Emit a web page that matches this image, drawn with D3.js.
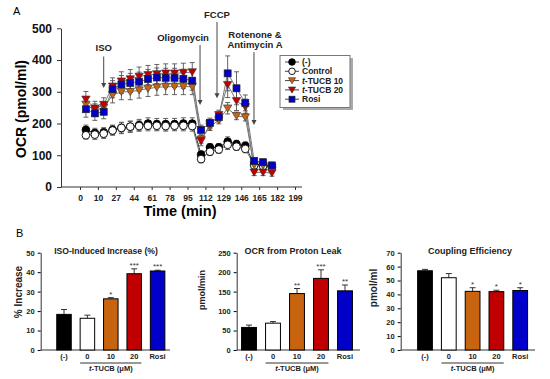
<!DOCTYPE html>
<html><head><meta charset="utf-8">
<script src="https://cdn.jsdelivr.net/npm/d3@7"></script>
<style>body{margin:0;background:#fff} svg{display:block;font-family:Arial,"Liberation Sans",sans-serif}</style>
</head><body><svg id="c" width="550" height="379"></svg>
<script>
// ---------- Panel A data ----------
const seriesNames = ["(-)", "Control", "t-TUCB 10", "t-TUCB 20", "Rosi"];
const timeTicks = [0, 10, 27, 44, 61, 78, 95, 112, 129, 146, 165, 182, 199];
const times = [3.3, 8.3, 15.5, 23.9, 32.3, 40.7, 49.1, 57.5, 65.9, 74.3, 82.7, 91.1, 99.5, 107.9, 116.3, 124.7, 133.1, 141.5, 150.3, 159.7, 168.7, 177.1];
const ocrNeg  = [180, 170, 172, 180, 186, 190, 195, 200, 198, 198, 198, 200, 200, 102, 125, 125, 143, 135, 130, 72, 70, 65];
const ocrCtrl = [163, 165, 168, 178, 186, 190, 192, 193, 193, 192, 193, 193, 192, 88, 111, 118, 133, 127, 120, 68, 66, 62];
const ocrT10  = [260, 242, 250, 290, 300, 300, 305, 310, 314, 316, 316, 316, 316, 150, 190, 211, 248, 224, 220, 69, 68, 62];
const ocrT20  = [276, 248, 259, 317, 333, 340, 348, 353, 356, 358, 358, 360, 362, 145, 198, 227, 322, 271, 252, 46, 46, 44];
const ocrRosi = [245, 232, 237, 308, 323, 328, 332, 340, 345, 344, 344, 341, 335, 180, 202, 220, 358, 311, 265, 82, 78, 68];
const errNeg  = [15, 15, 15, 15, 18, 18, 18, 18, 18, 18, 18, 18, 18, 12, 12, 12, 15, 12, 12, 8, 8, 8];
const errCtrl = [12, 15, 15, 15, 16, 16, 16, 16, 16, 16, 16, 16, 16, 12, 12, 12, 15, 12, 12, 8, 8, 8];
const errT10  = [20, 20, 20, 25, 25, 25, 25, 25, 25, 25, 25, 25, 25, 12, 12, 12, 18, 12, 12, 8, 8, 8];
const errT20  = [25, 22, 22, 27, 30, 30, 30, 30, 30, 30, 30, 30, 30, 15, 15, 15, 40, 30, 25, 10, 10, 10];
const errRosi = [25, 22, 22, 27, 28, 30, 30, 30, 30, 30, 30, 30, 30, 15, 15, 15, 55, 52, 25, 10, 10, 10];
const injNames = ["ISO", "Oligomycin", "FCCP", "Rotenone &|Antimycin A"];
const injTimes = [15.5, 106.9, 123, 159.5];
const injFrom  = [411, 447, 520, 425];
const injTo    = [312, 258, 280, 195];

// ---------- Panel B data ----------
const groups = ["(-)", "0", "10", "20", "Rosi"];
const isoVals = [18.3, 16.3, 26.3, 39.2, 40.6];
const isoErr  = [2.5, 1.6, 0.6, 2.5, 0.4];
const isoStars = ["", "", "*", "***", "***"];
const leakVals = [58, 69, 145, 184, 152];
const leakErr  = [6, 4, 13, 22, 15];
const leakStars = ["", "", "**", "***", "**"];
const coupVals = [57, 52, 42.2, 42, 42.8];
const coupErr  = [1, 3, 2.6, 1, 2];
const coupStars = ["", "", "*", "*", "*"];

const colors = ["#000000", "#ffffff", "#c8640f", "#c00000", "#0000c8"];
const shapes = ["circle", "circle", "tri", "tri", "square"];

const svg = d3.select("#c");
const FONT = 'Arial,"Liberation Sans",sans-serif';

// ================= Panel A =================
const tickPos = timeTicks.map((d, i) => 80 + i * (215 / 12));
const x = d3.scaleLinear().domain(timeTicks).range(tickPos);
const y = d3.scaleLinear().domain([0, 500]).range([187, 28.3]);

svg.append("text").attr("x", 13).attr("y", 15).attr("font-size", 11).text("A");

// y axis
const ya = svg.append("g").attr("transform", "translate(61,0)")
  .call(d3.axisLeft(y).tickValues([0, 100, 200, 300, 400, 500]).tickSize(4).tickSizeOuter(0));
ya.select(".domain").attr("stroke", "#333");
ya.selectAll(".tick line").attr("stroke", "#333");
ya.selectAll("text").attr("font-family", FONT).attr("font-weight", "bold").attr("font-size", 12).attr("fill", "#111").attr("dx", -2);

// x axis
const xa = svg.append("g").attr("transform", "translate(0,187)")
  .call(d3.axisBottom(x).tickValues(timeTicks).tickFormat(d3.format("d")).tickSize(3).tickSizeOuter(0));
xa.select(".domain").attr("stroke", "#333").attr("d", "M61,0H302");
xa.selectAll(".tick line").attr("stroke", "#333");
xa.selectAll("text").attr("font-family", FONT).attr("font-weight", "bold").attr("font-size", 8.5).attr("fill", "#222").attr("dy", "0.9em");

svg.append("text").attr("x", 180).attr("y", 216).attr("text-anchor", "middle")
  .attr("font-weight", "bold").attr("font-size", 14.5).text("Time (min)");
svg.append("text").attr("transform", "translate(26,109) rotate(-90)").attr("text-anchor", "middle")
  .attr("font-weight", "bold").attr("font-size", 14).text("OCR (pmol/ml)");

// injections
injNames.forEach((n, i) => {
  const xp = x(injTimes[i]);
  svg.append("line").attr("x1", xp).attr("x2", xp).attr("y1", y(injFrom[i])).attr("y2", y(injTo[i]) - 4)
    .attr("stroke", "#444").attr("stroke-width", 1);
  svg.append("path").attr("d", `M${xp - 2.5},${y(injTo[i]) - 5}L${xp + 2.5},${y(injTo[i]) - 5}L${xp},${y(injTo[i])}Z`).attr("fill", "#444");
});
const lab = (t, xx, yy) => svg.append("text").attr("x", xx).attr("y", yy).attr("text-anchor", "middle")
  .attr("font-weight", "bold").attr("font-size", 9.5).attr("fill", "#222").text(t);
lab("ISO", x(injTimes[0]), 51);
lab("Oligomycin", 183, 41);
lab("FCCP", x(injTimes[2]), 18);
lab("Rotenone &", 255, 38);
lab("Antimycin A", 255, 48);

const ocr = [ocrNeg, ocrCtrl, ocrT10, ocrT20, ocrRosi];
const err = [errNeg, errCtrl, errT10, errT20, errRosi];

function marker(g, shape, fill, cx, cy, s) {
  if (shape === "circle") {
    g.append("circle").attr("cx", cx).attr("cy", cy).attr("r", s * 0.55).attr("fill", fill).attr("stroke", "#000").attr("stroke-width", 0.9);
  } else if (shape === "tri") {
    const h = s * 0.6;
    g.append("path").attr("d", `M${cx - h},${cy - h * 0.8}L${cx + h},${cy - h * 0.8}L${cx},${cy + h * 0.9}Z`)
      .attr("fill", fill).attr("stroke", "#333").attr("stroke-width", 0.6);
  } else {
    const h = s * 0.5;
    g.append("rect").attr("x", cx - h).attr("y", cy - h).attr("width", 2 * h).attr("height", 2 * h)
      .attr("fill", fill).attr("stroke", "#222").attr("stroke-width", 0.7);
  }
}

const gA = svg.append("g");
// error bars
ocr.forEach((vals, s) => {
  vals.forEach((v, i) => {
    const xp = x(times[i]), e = err[s][i];
    gA.append("line").attr("x1", xp).attr("x2", xp).attr("y1", y(v - e)).attr("y2", y(v + e)).attr("stroke", "#555").attr("stroke-width", 0.9);
    [v - e, v + e].forEach(vv => gA.append("line").attr("x1", xp - 2.5).attr("x2", xp + 2.5).attr("y1", y(vv)).attr("y2", y(vv)).attr("stroke", "#555").attr("stroke-width", 0.9));
  });
});
const line = d3.line().x((d, i) => x(times[i])).y(d => y(d));
ocr.forEach((vals, s) => {
  gA.append("path").attr("d", line(vals)).attr("fill", "none").attr("stroke", s === 0 ? "#333" : "#777").attr("stroke-width", 1);
});
ocr.forEach((vals, s) => {
  vals.forEach((v, i) => marker(gA, shapes[s], colors[s], x(times[i]), y(v), 7));
});

// legend
const lg = svg.append("g");
lg.append("rect").attr("x", 283).attr("y", 58).attr("width", 70).attr("height", 52).attr("fill", "#aaa");
lg.append("rect").attr("x", 280).attr("y", 55.5).attr("width", 70).attr("height", 52).attr("fill", "#fff").attr("stroke", "#777").attr("stroke-width", 1);
seriesNames.forEach((n, i) => {
  const yy = 62 + i * 9.3;
  lg.append("line").attr("x1", 285).attr("x2", 299).attr("y1", yy).attr("y2", yy).attr("stroke", "#444");
  marker(lg, shapes[i], colors[i], 292, yy, 6);
  const t = lg.append("text").attr("x", 302).attr("y", yy + 3).attr("font-weight", "bold").attr("font-size", 8.5).attr("fill", "#222");
  if (n.startsWith("t-")) {
    t.append("tspan").attr("font-style", "italic").text("t");
    t.append("tspan").text(n.slice(1));
  } else t.text(n);
});

// ================= Panel B =================
svg.append("text").attr("x", 16).attr("y", 237).attr("font-size", 11).text("B");

function barChart(o) {
  const g = svg.append("g");
  const yb = d3.scaleLinear().domain([0, o.max]).range([350, 252.7]);
  const xb = d3.scaleBand().domain(groups).range(o.range).paddingInner(0.38).paddingOuter(0.19);
  const ax = g.append("g").attr("transform", `translate(${o.axisX},0)`)
    .call(d3.axisLeft(yb).tickValues(d3.range(0, o.max + 0.001, o.step)).tickSize(3).tickSizeOuter(0));
  ax.select(".domain").attr("stroke", "#333");
  ax.selectAll("text").attr("font-family", FONT).attr("font-weight", "bold").attr("font-size", 7.5).attr("fill", "#222");
  g.append("line").attr("x1", o.axisX).attr("x2", o.axisEnd).attr("y1", 350).attr("y2", 350).attr("stroke", "#333");
  // error bars
  groups.forEach((c, i) => {
    const cx = xb(c) + xb.bandwidth() / 2;
    g.append("line").attr("x1", cx).attr("x2", cx).attr("y1", yb(o.vals[i])).attr("y2", yb(o.vals[i] + o.err[i])).attr("stroke", "#333");
    g.append("line").attr("x1", cx - 3).attr("x2", cx + 3).attr("y1", yb(o.vals[i] + o.err[i])).attr("y2", yb(o.vals[i] + o.err[i])).attr("stroke", "#333");
  });
  g.selectAll("rect.bar").data(o.vals).join("rect").attr("class", "bar")
    .attr("x", (d, i) => xb(groups[i])).attr("width", xb.bandwidth())
    .attr("y", d => yb(d)).attr("height", d => 350 - yb(d))
    .attr("fill", (d, i) => colors[i]).attr("stroke", "#000").attr("stroke-width", 1);
  groups.forEach((c, i) => {
    const cx = xb(c) + xb.bandwidth() / 2;
    g.append("text").attr("x", cx).attr("y", 359).attr("text-anchor", "middle").attr("font-weight", "bold").attr("font-size", 7.5).attr("fill", "#222").text(c);
    if (o.stars[i]) g.append("text").attr("x", cx).attr("y", yb(o.vals[i] + o.err[i]) - 1).attr("text-anchor", "middle").attr("font-size", 8).attr("fill", "#333").text(o.stars[i]);
  });
  const ux1 = xb("0"), ux2 = xb("20") + xb.bandwidth();
  g.append("line").attr("x1", ux1).attr("x2", ux2).attr("y1", 363).attr("y2", 363).attr("stroke", "#333");
  const tt = g.append("text").attr("x", (ux1 + ux2) / 2).attr("y", 371).attr("text-anchor", "middle").attr("font-weight", "bold").attr("font-size", 7.5).attr("fill", "#222");
  tt.append("tspan").attr("font-style", "italic").text("t");
  tt.append("tspan").text("-TUCB (μM)");
  g.append("text").attr("x", o.titleX).attr("y", 254).attr("text-anchor", "middle").attr("font-weight", "bold").attr("font-size", o.titleSize).attr("fill", "#222").text(o.title);
  g.append("text").attr("transform", `translate(${o.ylabX},${o.ylabY}) rotate(-90)`).attr("text-anchor", "middle").attr("font-weight", "bold").attr("font-size", o.ylabSize).attr("fill", "#222").text(o.ylab);
}

barChart({ vals: isoVals, err: isoErr, stars: isoStars, max: 50, step: 10, axisX: 40.7, axisEnd: 170, range: [52.3, 169.3], title: "ISO-Induced Increase (%)", titleSize: 8.6, titleX: 106, ylab: "% Increase", ylabX: 22, ylabY: 292, ylabSize: 10 });
barChart({ vals: leakVals, err: leakErr, stars: leakStars, max: 250, step: 50, axisX: 236.7, axisEnd: 360, range: [237, 357], title: "OCR from Proton Leak", titleSize: 9, titleX: 293, ylab: "pmol/min", ylabX: 205, ylabY: 290, ylabSize: 9 });
barChart({ vals: coupVals, err: coupErr, stars: coupStars, max: 70, step: 10, axisX: 400.7, axisEnd: 535, range: [413.1, 532.1], title: "Coupling Efficiency", titleSize: 9, titleX: 470, ylab: "pmol/ml", ylabX: 377, ylabY: 288, ylabSize: 10 });
</script></body></html>
